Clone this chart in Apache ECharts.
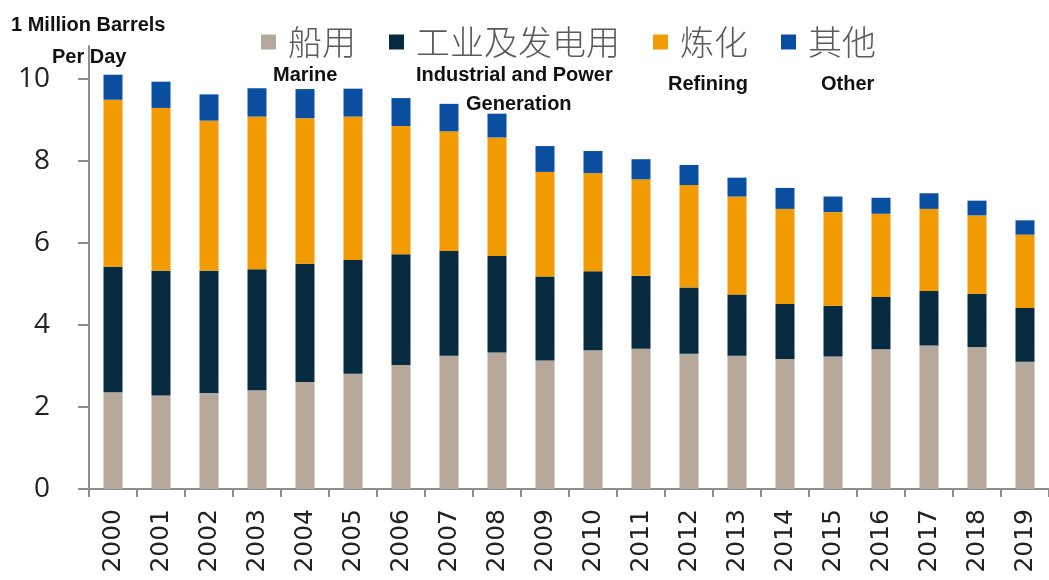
<!DOCTYPE html>
<html>
<head>
<meta charset="utf-8">
<style>
  html, body { margin: 0; padding: 0; background: #fff; }
  #chart { width: 1049px; height: 580px; }
</style>
<script src="https://cdn.jsdelivr.net/npm/echarts@6/dist/echarts.min.js"></script>
</head>
<body>
<div id="chart"></div>
<script>
  // 年份
  var years = ['2000', '2001', '2002', '2003', '2004', '2005', '2006', '2007', '2008', '2009',
    '2010', '2011', '2012', '2013', '2014', '2015', '2016', '2017', '2018', '2019']
  // 船用
  var marine = [2.36, 2.28, 2.34, 2.41, 2.61, 2.81, 3.02, 3.25, 3.33, 3.13,
    3.38, 3.42, 3.30, 3.25, 3.17, 3.23, 3.41, 3.50, 3.46, 3.10]
  // 工业及发电用
  var industrial = [3.06, 3.04, 2.98, 2.95, 2.88, 2.77, 2.70, 2.55, 2.35, 2.05,
    1.93, 1.78, 1.61, 1.49, 1.34, 1.24, 1.27, 1.33, 1.30, 1.31]
  // 炼化
  var refining = [4.07, 3.97, 3.66, 3.72, 3.55, 3.50, 3.13, 2.92, 2.89, 2.55,
    2.39, 2.35, 2.50, 2.39, 2.32, 2.28, 2.03, 2.00, 1.91, 1.79]
  // 其他
  var other = [0.61, 0.64, 0.64, 0.69, 0.71, 0.68, 0.68, 0.67, 0.58, 0.63,
    0.54, 0.49, 0.49, 0.46, 0.51, 0.38, 0.39, 0.38, 0.36, 0.35]
  var yTicks = [0, 2, 4, 6, 8, 10]

  var seriesNames = ['船用', '工业及发电用', '炼化', '其他']
  var seriesData = [marine, industrial, refining, other]
  var colors = ['#b5a89b', '#062a40', '#f29b00', '#0a4ea2']

  var dom = echarts.init(document.getElementById('chart'))

  // 英文注释
  function engText(text, x, y) {
    return {
      type: 'text',
      x: x,
      y: y,
      style: {
        text: text,
        fontFamily: 'Liberation Sans',
        fontWeight: 'bold',
        fontSize: 20,
        fill: '#111',
        verticalAlign: 'middle'
      }
    }
  }

  var option = {
    animation: false,
    color: colors,
    grid: {
      left: 89,
      top: 46,
      width: 964,
      height: 443
    },
    legend: {
      top: 20,
      left: 256,
      itemWidth: 15,
      itemHeight: 15,
      itemGap: 33,
      icon: 'rect',
      textStyle: {
        fontFamily: 'Noto Sans CJK SC',
        fontSize: 34,
        color: '#5a5a5a',
        fontWeight: 300,
        padding: [0, 0, 0, 7]
      },
      data: seriesNames
    },
    xAxis: {
      type: 'category',
      data: years,
      axisLine: { lineStyle: { color: '#8c8c8c', width: 2 } },
      axisTick: { show: true, length: 8, lineStyle: { color: '#8c8c8c', width: 2 } },
      axisLabel: {
        rotate: 90,
        margin: 20,
        fontFamily: 'DejaVu Sans',
        fontSize: 25,
        color: '#222'
      }
    },
    yAxis: {
      type: 'value',
      min: 0,
      max: 10.8,
      interval: 2,
      splitLine: { show: false },
      axisLine: { show: true, lineStyle: { color: '#8c8c8c', width: 2 } },
      axisTick: { show: true, length: 11, customValues: yTicks, lineStyle: { color: '#8c8c8c', width: 2 } },
      axisLabel: {
        customValues: yTicks,
        margin: 39,
        fontFamily: 'Open Sans',
        fontSize: 28,
        color: '#222'
      }
    },
    series: seriesNames.map(function (name, i) {
      return {
        name: name,
        type: 'bar',
        stack: 'total',
        barWidth: 19,
        data: seriesData[i]
      }
    }),
    graphic: [
      engText('1 Million Barrels', 11, 25),
      engText('Per Day', 52, 57),
      engText('Marine', 273, 75),
      engText('Industrial and Power', 416, 75),
      engText('Generation', 466, 104),
      engText('Refining', 668, 84),
      engText('Other', 821, 84)
    ]
  }
  dom.setOption(option)
</script>
</body>
</html>
